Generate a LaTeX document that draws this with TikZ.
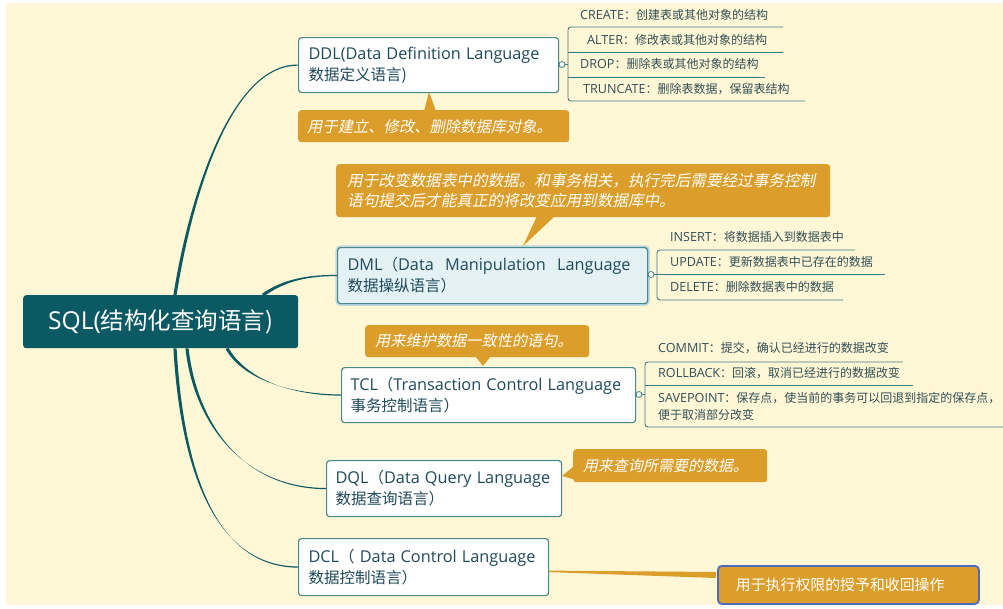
\documentclass[tikz,border=0pt]{standalone}
\usepackage{fontspec}
\setmainfont{Noto Sans CJK SC}
\newfontfamily\en[Scale=1.05]{Open Sans}
\newfontfamily\cjkit[FakeSlant=0.2]{Noto Sans CJK SC}
\usetikzlibrary{calc}
\definecolor{bg}{HTML}{FFF7D6}
\definecolor{rootc}{HTML}{0B5A63}
\definecolor{boxline}{HTML}{4C878C}
\definecolor{txt}{HTML}{1F4A5A}
\definecolor{subtxt}{HTML}{2F4F57}
\definecolor{notec}{HTML}{DB9E2A}
\definecolor{dmlfill}{HTML}{E4F1F5}
\definecolor{glowc}{HTML}{BCD9E0}
\definecolor{blueb}{HTML}{4A6CC0}
\definecolor{subline}{HTML}{3F7C82}
\newcommand\taper[5]{\fill[conn] ($#1-#5$) .. controls ($#2-#5$) and ($#3+(0,-0.6)$) .. ($#4+(0,-0.6)$) -- ($#4+(0,0.6)$) .. controls ($#3+(0,0.6)$) and ($#2+#5$) .. ($#1+#5$) -- cycle;}
\begin{document}
\begin{tikzpicture}[x=1pt,y=-1pt,
  conn/.style={fill=rootc},
  rootbox/.style={fill=rootc, rounded corners=3pt, anchor=north west, minimum width=275pt, minimum height=53pt, inner sep=0pt, text=white, font={\fontsize{23.5}{28}\selectfont}},
  branch/.style={draw=boxline, line width=1.2pt, fill=white, rounded corners=3pt, anchor=north west, inner xsep=10pt, inner ysep=0pt, align=left, text=txt, font={\fontsize{15.5}{21}\selectfont}},
  notebox/.style={fill=notec, rounded corners=3pt, anchor=north west, inner xsep=10pt, inner ysep=0pt, align=left, text=white, font={\cjkit\fontsize{15.3}{20}\selectfont}},
  item/.style={anchor=west, inner sep=0pt, text=subtxt, font={\fontsize{12}{17}\selectfont}},
  dot/.style={circle, draw=subline, fill=white, line width=0.8pt, minimum size=6pt, inner sep=0pt},
  sub/.style={draw=subline, line width=0.9pt},
  subb/.style={draw=subline, line width=0.9pt, rounded corners=3pt}
]
\useasboundingbox (0,0) rectangle (1003,608);
\fill[white] (0,0) rectangle (1003,608);
\fill[bg] (6,3) rectangle (1003,605);

% root
\node[rootbox] (root) at (23,295) {{\en SQL(}结构化查询语言)};

% branches
\node[branch, text width=240pt, minimum height=55pt] (ddl) at (298,37)
  {\mbox{\en DDL(Data Definition Language}\\数据定义语言)};
\node[branch, text width=290pt, minimum height=56pt, fill=dmlfill, preaction={draw=glowc, line width=4.5pt}] (dml) at (337,247)
  {\makebox[283pt][s]{{\en DML}（{\en Data}\hfil{\en Manipulation}\hfil{\en Language}}\\数据操纵语言）};
\node[branch, inner xsep=9pt, text width=276pt, minimum height=55pt] (tcl) at (341,367)
  {\mbox{{\en TCL}（{\en Transaction Control Language}}\\事务控制语言）};
\node[branch, inner xsep=9pt, text width=217pt, minimum height=56pt] (dql) at (326,460)
  {\mbox{{\en DQL}（{\en Data Query Language}}\\数据查询语言）};
\node[branch, text width=230pt, minimum height=57pt] (dcl) at (298,538)
  {\mbox{{\en DCL}（ {\en Data Control Language}}\\数据控制语言）};

% notes
\fill[notec] (424,111) -- (429,92) -- (436,111) -- cycle;
\node[notebox, inner xsep=9pt, text width=253pt, minimum height=32pt] (ddlnote) at (298,110)
  {\mbox{用于建立、修改、删除数据库对象。}};
\fill[notec] (537,216) -- (523,246) -- (555,216) -- cycle;
\node[notebox, inner xsep=11pt, text width=472pt, minimum height=53pt, font={\cjkit\fontsize{15.6}{20}\selectfont}] (dmlnote) at (336,164)
  {\mbox{用于改变数据表中的数据。和事务相关，执行完后需要经过事务控制}\\\mbox{语句提交后才能真正的将改变应用到数据库中。}};
\fill[notec] (475,356) -- (483,366) -- (491,356) -- cycle;
\node[notebox, text width=204pt, minimum height=32pt, font={\cjkit\fontsize{15.2}{20}\selectfont}] (tclnote) at (365,325)
  {\mbox{用来维护数据一致性的语句。}};
\fill[notec] (574,466) -- (562,476) -- (580,481) -- cycle;
\node[notebox, text width=174pt, minimum height=33pt, font={\cjkit\fontsize{15}{20}\selectfont}] (dqlnote) at (573,449)
  {\mbox{用来查询所需要的数据。}};
\fill[notec] ($(dcl.east)+(0,3.5)$) -- ($(dcl.east)+(0,5)$) -- (716,578) -- (716,572) -- cycle;
\node[notebox, draw=blueb, line width=1.8pt, rounded corners=4pt, inner xsep=18pt, text width=225pt, minimum height=38pt, font={\fontsize{14.9}{20}\selectfont}] (dclnote) at (717,565)
  {\mbox{用于执行权限的授予和收回操作}};

% root connectors
\coordinate (s1) at ($(root.north west)+(152,0)$);
\coordinate (s2) at ($(root.north west)+(240,0)$);
\coordinate (s3) at ($(root.south west)+(204,0)$);
\coordinate (s4) at ($(root.south west)+(164,0)$);
\coordinate (s5) at ($(root.south west)+(152,0)$);
\taper{(s1)}{(190,200)}{(230,64.5)}{(ddl.west)}{(1.6,0)}
\taper{(s2)}{(280,283)}{(302,275)}{(dml.west)}{(1.0,1.2)}
\taper{(s3)}{(242,375)}{(282,394.5)}{(tcl.west)}{(1.4,-0.6)}
\taper{(s4)}{(195,420)}{(240,488)}{(dql.west)}{(1.6,0)}
\taper{(s5)}{(182,470)}{(215,566.5)}{(dcl.west)}{(1.6,0)}

% DDL children
\node[dot] (ddlc) at (562,64.5) {};
\draw[sub] (ddl.east) -- (ddlc);
\draw[sub] (ddlc) -- (568,64.5);
\draw[subb] (783,27) -- (568,27) -- (568,101) -- (805,101);
\draw[sub] (568,52) -- (783,52);
\draw[sub] (568,77) -- (765,77);
\node[item] (create) at (580,15) {{\en CREATE}：创建表或其他对象的结构};
\node[item] (alter) at (587,40) {{\en ALTER}：修改表或其他对象的结构};
\node[item] (drop) at (580,64) {{\en DROP}：删除表或其他对象的结构};
\node[item] (trunc) at (583,89) {{\en TRUNCATE}：删除表数据，保留表结构};

% DML children
\node[dot] (dmlc) at (651,274.5) {};
\draw[sub] (dml.east) -- (dmlc);
\draw[sub] (dmlc) -- (657,274.5);
\draw[subb] (855,250) -- (657,250) -- (657,300) -- (843,300);
\draw[sub] (657,274.5) -- (885,274.5);
\node[item] (insert) at (670,237) {{\en INSERT}：将数据插入到数据表中};
\node[item] (update) at (670,262) {{\en UPDATE}：更新数据表中已存在的数据};
\node[item] (delete) at (670,287) {{\en DELETE}：删除数据表中的数据};

% TCL children
\node[dot] (tclc) at (639,394.5) {};
\draw[sub] (tcl.east) -- (tclc);
\draw[sub] (tclc) -- (645,394.5);
\draw[subb] (903,362) -- (645,362) -- (645,427) -- (1003,427);
\draw[sub] (645,385) -- (913,385);
\node[item] (commit) at (658,348) {{\en COMMIT}：提交，确认已经进行的数据改变};
\node[item] (rollback) at (658,373) {{\en ROLLBACK}：回滚，取消已经进行的数据改变};
\node[item, align=left] (savepoint) at (658,406.5) {{\en SAVEPOINT}：保存点，使当前的事务可以回退到指定的保存点，\\便于取消部分改变};
\end{tikzpicture}
\end{document}
